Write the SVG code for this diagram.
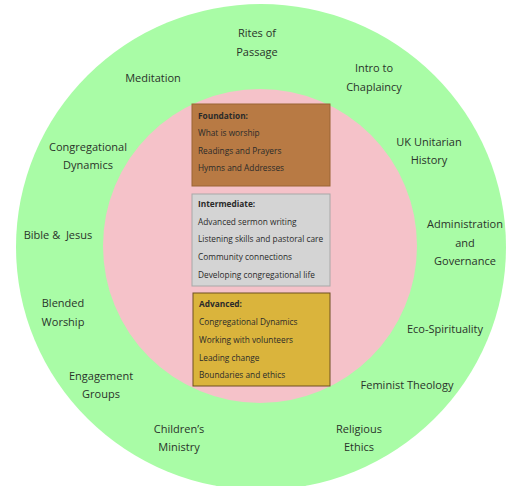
<svg xmlns="http://www.w3.org/2000/svg" width="510" height="486" viewBox="0 0 510 486">
<style>
.lbl{font-family:"Open Sans","Liberation Sans",sans-serif;font-size:11px;fill:#2a332a;text-anchor:middle}
.bx{font-family:"Open Sans","Liberation Sans",sans-serif;font-size:8.3px;fill:#2a2a2a}
.hd{font-weight:bold}
</style>
<rect width="510" height="486" fill="#ffffff"/>
<g id="outer-ring"><ellipse cx="261" cy="247" rx="245" ry="243" fill="#a9fca6"/></g>
<g id="inner-circle"><circle cx="260" cy="246" r="157" fill="#f5c2c9"/></g>
<g id="connectors"></g>
<g id="foundation">
<rect x="192" y="104" width="138" height="82" fill="#b87a44" stroke="#9a6535" stroke-width="1"/>
<text class="bx hd" x="198" y="119">Foundation:</text>
<text class="bx" x="198" y="136">What is worship</text>
<text class="bx" x="198" y="154">Readings and Prayers</text>
<text class="bx" x="198" y="171">Hymns and Addresses</text>
</g>
<g id="intermediate">
<rect x="192" y="194" width="138" height="92" fill="#d4d4d4" stroke="#a8a8a8" stroke-width="1"/>
<text class="bx hd" x="198" y="207">Intermediate:</text>
<text class="bx" x="198" y="225">Advanced sermon writing</text>
<text class="bx" x="198" y="242">Listening skills and pastoral care</text>
<text class="bx" x="198" y="260">Community connections</text>
<text class="bx" x="198" y="278">Developing congregational life</text>
</g>
<g id="advanced">
<rect x="193" y="293" width="137" height="93" fill="#dab43c" stroke="#6e5020" stroke-width="1"/>
<text class="bx hd" x="199" y="307">Advanced:</text>
<text class="bx" x="199" y="325">Congregational Dynamics</text>
<text class="bx" x="199" y="343">Working with volunteers</text>
<text class="bx" x="199" y="361">Leading change</text>
<text class="bx" x="199" y="378">Boundaries and ethics</text>
</g>
<g id="rites"><text class="lbl" x="257" y="37">Rites of</text><text class="lbl" x="257" y="56">Passage</text></g>
<g id="meditation"><text class="lbl" x="153" y="82">Meditation</text></g>
<g id="chaplaincy"><text class="lbl" x="374" y="72">Intro to</text><text class="lbl" x="374" y="91">Chaplaincy</text></g>
<g id="congdyn"><text class="lbl" x="88" y="151">Congregational</text><text class="lbl" x="88" y="169">Dynamics</text></g>
<g id="ukhistory"><text class="lbl" x="429" y="146">UK Unitarian</text><text class="lbl" x="429" y="164">History</text></g>
<g id="bible"><text class="lbl" x="58" y="239" xml:space="preserve">Bible &amp;  Jesus</text></g>
<g id="admin"><text class="lbl" x="465" y="228">Administration</text><text class="lbl" x="465" y="247">and</text><text class="lbl" x="465" y="265">Governance</text></g>
<g id="blended"><text class="lbl" x="63" y="307">Blended</text><text class="lbl" x="63" y="326">Worship</text></g>
<g id="eco"><text class="lbl" x="445" y="333">Eco-Spirituality</text></g>
<g id="engagement"><text class="lbl" x="101" y="380">Engagement</text><text class="lbl" x="101" y="398">Groups</text></g>
<g id="feminist"><text class="lbl" x="407" y="389">Feminist Theology</text></g>
<g id="children"><text class="lbl" x="179" y="433">Children’s</text><text class="lbl" x="179" y="451">Ministry</text></g>
<g id="ethics"><text class="lbl" x="359" y="433">Religious</text><text class="lbl" x="359" y="451">Ethics</text></g>
</svg>
